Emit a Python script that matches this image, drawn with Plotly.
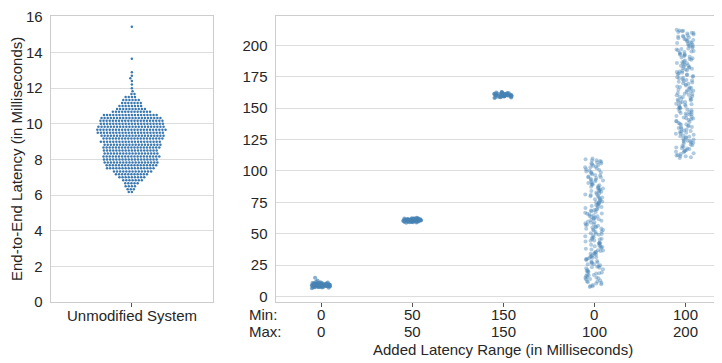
import math
import plotly.graph_objects as go

# ---------------- data ----------------
# Left panel (swarm): distinct latency values (ms) and how many samples sit at each
swarm_values = [6.17, 6.33, 6.50, 6.67, 6.83, 7.00, 7.17, 7.33, 7.50, 7.67, 7.83, 8.00, 8.17,
                8.33, 8.50, 8.67, 8.83, 9.00, 9.17, 9.33, 9.50, 9.67, 9.83, 10.00, 10.17,
                10.33, 10.50, 10.67, 10.83, 11.00, 11.17, 11.33, 11.50, 11.67, 11.83,
                12.0, 12.2, 12.4, 12.55, 12.7, 12.9, 13.65, 15.45]
swarm_counts = [2, 3, 4, 5, 7, 9, 11, 13, 16, 17, 18, 18, 19,
                18, 18, 19, 19, 20, 20, 21, 22, 23, 22, 21, 21,
                20, 18, 13, 10, 8, 7, 6, 4, 2, 1,
                1, 1, 1, 1, 1, 1, 1, 1]
swarm_category = "Unmodified System"

# Right panel (strips): tick labels and measured latencies per added-latency range
range_min = ["0", "50", "150", "0", "100"]
range_max = ["0", "50", "150", "100", "200"]

lat_0_0 = [6.4, 6.8, 7.0, 7.1, 7.3, 7.4, 7.5, 7.6, 7.7, 7.8, 7.9, 8.0, 8.0, 8.1, 8.2, 8.2,
           8.3, 8.4, 8.4, 8.5, 8.5, 8.6, 8.6, 8.7, 8.7, 8.8, 8.8, 8.9, 8.9, 9.0, 9.0, 9.1,
           9.1, 9.2, 9.2, 9.3, 9.3, 9.4, 9.4, 9.5, 9.5, 9.6, 9.6, 9.7, 9.8, 9.8, 9.9, 10.0,
           10.1, 10.2, 10.3, 10.4, 10.5, 10.6, 10.8, 11.0, 11.3, 11.7, 12.6, 14.9,
           7.2, 7.9, 8.3, 8.6, 9.0, 9.3, 9.7, 10.1, 10.4, 8.1, 8.9, 9.5, 9.9, 10.7]
lat_50_50 = [58.6, 58.9, 59.1, 59.3, 59.4, 59.5, 59.6, 59.7, 59.8, 59.9, 60.0, 60.0, 60.1,
             60.1, 60.2, 60.2, 60.3, 60.3, 60.4, 60.4, 60.5, 60.5, 60.6, 60.6, 60.7, 60.7,
             60.8, 60.8, 60.9, 60.9, 61.0, 61.0, 61.1, 61.1, 61.2, 61.2, 61.3, 61.4, 61.5,
             61.6, 61.7, 61.8, 61.9, 62.0, 62.2, 62.4, 62.6, 59.2, 59.9, 60.6, 61.3, 61.9,
             59.0, 59.6, 60.1, 60.4, 60.8, 61.1, 61.5, 62.1]
lat_150_150 = [158.2, 158.5, 158.8, 159.0, 159.2, 159.4, 159.5, 159.6, 159.7, 159.8, 159.9,
               160.0, 160.1, 160.1, 160.2, 160.3, 160.3, 160.4, 160.5, 160.5, 160.6, 160.6,
               160.7, 160.8, 160.8, 160.9, 161.0, 161.0, 161.1, 161.2, 161.3, 161.4, 161.5,
               161.6, 161.7, 161.8, 162.0, 162.2, 162.4, 162.7, 163.0, 159.3, 160.2, 160.9, 161.5,
               158.6, 159.1, 159.8, 160.4, 160.7, 161.1, 161.6, 162.1, 162.5]
lat_0_100 = [7.4, 8.1, 8.3, 9.7, 10.2, 10.8, 11.9, 12.1, 12.7, 13.6, 13.8, 14.5, 15.1, 15.4, 16.2, 16.9, 17.0, 9.1, 11.2, 14.9,
             17.6, 18.3, 18.5, 19.4, 20.1, 20.2, 21.7, 22.4, 22.9, 23.3, 24.0, 24.8, 25.5, 25.6, 26.3, 26.9, 19.0, 21.1, 23.7, 27.0,
             27.8, 28.2, 28.9, 29.5, 30.3, 30.7, 31.6, 32.0, 32.8, 33.1, 33.9, 34.6, 35.2, 35.4, 36.1, 36.8, 29.9, 31.2, 34.0, 36.5,
             37.3, 38.0, 38.7, 39.4, 39.6, 40.5, 41.1, 41.9, 42.2, 43.0, 43.8, 44.4, 44.5, 45.3, 46.0, 46.7, 40.0, 42.6, 45.8,
             47.2, 47.9, 48.6, 49.1, 50.0, 50.4, 51.3, 51.8, 52.5, 53.2, 53.9, 54.1, 54.8, 55.6, 56.2, 56.9, 49.7, 52.9, 55.0, 57.0,
             57.5, 58.3, 58.8, 59.6, 60.2, 60.9, 61.4, 62.3, 62.7, 63.5, 64.1, 64.6, 65.4, 66.0, 66.7, 59.0, 61.8, 63.9, 65.9,
             67.3, 67.9, 68.4, 69.2, 69.8, 70.5, 71.2, 71.7, 72.6, 73.0, 73.7, 74.3, 75.1, 75.6, 76.4, 76.9, 68.8, 72.1, 74.8,
             77.4, 78.1, 78.9, 79.3, 80.0, 80.8, 81.5, 82.1, 82.8, 83.4, 84.0, 84.7, 85.2, 85.9, 86.6, 79.8, 81.1, 83.9, 86.2,
             87.3, 87.8, 88.5, 89.2, 89.9, 90.4, 91.1, 91.8, 92.3, 93.0, 93.6, 94.4, 94.9, 95.5, 96.3, 96.8, 88.9, 92.7, 95.0,
             97.4, 98.1, 98.7, 99.5, 100.2, 100.8, 101.4, 102.1, 102.9, 103.5, 104.2, 104.8, 105.3, 106.1, 106.7, 107.4, 108.0,
             108.6, 109.3, 109.9, 99.0, 103.0, 105.9, 108.3]
lat_100_200 = [110.3, 110.9, 111.6, 112.2, 112.7, 113.5, 114.0, 114.8, 115.3, 116.1, 116.6, 117.4, 117.9, 118.7, 119.2, 119.8, 111.9, 115.7, 118.1,
               120.5, 121.1, 121.8, 122.4, 123.2, 123.6, 124.5, 125.0, 125.7, 126.4, 126.9, 127.6, 128.3, 128.8, 129.6, 122.9, 124.1, 127.2, 129.9,
               130.4, 131.0, 131.9, 132.3, 133.1, 133.7, 134.2, 135.0, 135.6, 136.3, 136.8, 137.7, 138.1, 138.9, 139.5, 131.5, 134.7, 137.3, 139.8,
               140.6, 141.2, 141.7, 142.5, 143.1, 143.8, 144.3, 145.1, 145.8, 146.2, 147.0, 147.6, 148.4, 148.9, 149.5, 142.0, 144.9, 146.7, 149.9,
               150.4, 151.0, 151.8, 152.3, 153.1, 153.6, 154.4, 155.0, 155.7, 156.3, 157.1, 157.5, 158.2, 158.9, 159.6, 152.8, 154.9, 156.8, 159.2,
               160.3, 160.8, 161.6, 162.2, 162.9, 163.4, 164.2, 164.7, 165.5, 166.1, 166.8, 167.3, 168.0, 168.8, 169.4, 161.2, 163.9, 166.5, 169.9,
               170.5, 171.1, 171.7, 172.4, 173.0, 173.8, 174.3, 175.1, 175.6, 176.4, 177.0, 177.7, 178.3, 178.9, 179.6, 172.0, 174.7, 176.9, 179.2,
               180.2, 180.9, 181.5, 182.2, 182.8, 183.3, 184.1, 184.6, 185.4, 186.0, 186.7, 187.2, 188.0, 188.6, 189.3, 181.8, 183.9, 185.8, 189.8,
               190.4, 191.0, 191.7, 192.3, 193.0, 193.5, 194.3, 194.9, 195.5, 196.2, 196.8, 197.6, 198.1, 198.9, 199.5, 192.6, 195.1, 197.2, 199.9,
               200.6, 201.2, 201.9, 202.5, 203.1, 203.8, 204.4, 205.0, 205.7, 206.3, 206.9, 207.6, 208.2, 208.8, 209.5, 210.1, 210.7, 211.4, 212.0,
               212.6, 202.0, 204.9, 207.1, 209.9, 211.8]
strip_groups = [lat_0_0, lat_50_50, lat_150_150, lat_0_100, lat_100_200]

# ---------------- geometry / style ----------------
OFF = 8                                      # page body margin of the browser
W, H = 722 - OFF, 363 - OFF
TOP, BOTTOM = 12 - OFF, 302 - OFF            # plot area (figure pixels)
PLOT_H = BOTTOM - TOP
L_X0, L_X1 = 50.7 - OFF, 213.0 - OFF
R_X0, R_X1 = 275.5 - OFF, float(W)
L_YR = [0, 16.05]
R_YR = [-4.5, 223.5]
R_XR = [-0.5, -0.5 + (R_X1 - R_X0) / 91.0]
FONT = "Liberation Sans, Arial, sans-serif"
TXT = "#262626"
BLUE = "#3a78b0"
STRIP_BLUE = "#4682b4"


def py(ypage):
    return (BOTTOM - (ypage - OFF)) / PLOT_H


def px(xpage):
    return (xpage - OFF) / W


# ---- beeswarm placement (pixel space) ----
vals = []
for v, c in zip(swarm_values, swarm_counts):
    vals += [v] * c
vals.sort()
ppy = PLOT_H / (L_YR[1] - L_YR[0])
ppx = (L_X1 - L_X0) / 1.0
D = 3.1
placed = []
for v in vals:
    yp = v * ppy
    neigh = [(qx, qy) for (qx, qy) in placed if abs(qy - yp) < D]
    cands = [0.0]
    for qx, qy in neigh:
        dx = math.sqrt(max(D * D - (qy - yp) ** 2, 0))
        cands += [qx + dx, qx - dx]
    cands.sort(key=lambda c: (abs(c), c))
    chosen = 0.0
    for c in cands:
        if all((c - qx) ** 2 + (yp - qy) ** 2 >= D * D - 1e-6 for qx, qy in neigh):
            chosen = c
            break
    placed.append((chosen, yp))
swarm_x = [p[0] / ppx for p in placed]
swarm_y = [p[1] / ppy for p in placed]


def jit(i, k):
    h = math.sin(i * 12.9898 + k * 78.233) * 43758.5453
    return (h - math.floor(h)) * 0.2 - 0.1


fig = go.Figure()
fig.add_trace(go.Scatter(x=swarm_x, y=swarm_y, mode="markers", xaxis="x", yaxis="y",
                         marker=dict(size=2.5, color=BLUE, line=dict(width=0)),
                         showlegend=False, hoverinfo="y"))
for k, grp in enumerate(strip_groups):
    xs = [k + jit(i, k) for i in range(len(grp))]
    dense = k < 3
    fig.add_trace(go.Scatter(x=xs, y=grp, mode="markers", xaxis="x2", yaxis="y2",
                             marker=dict(size=4.0, color=STRIP_BLUE,
                                         opacity=0.65 if dense else 0.42, line=dict(width=0)),
                             showlegend=False, hoverinfo="y"))

axis_common = dict(showline=True, linecolor="#cccccc", linewidth=1, zeroline=False,
                   tickfont=dict(family=FONT, size=15, color=TXT))
fig.update_layout(
    width=W, height=H, margin=dict(l=0, r=0, t=TOP, b=H - BOTTOM),
    paper_bgcolor="white", plot_bgcolor="white",
    font=dict(family=FONT, size=15, color=TXT),
    xaxis=dict(domain=[L_X0 / W, L_X1 / W], range=[-0.5, 0.5], tickvals=[0], ticktext=[""],
               showticklabels=False, ticks="outside", ticklen=4, tickcolor="#555555",
               showgrid=False, mirror=True, **axis_common),
    yaxis=dict(domain=[0, 1], range=L_YR, tickvals=list(range(0, 17, 2)), showgrid=True,
               gridcolor="#dddddd", gridwidth=1, mirror=True, ticks="", ticklabelstandoff=4,
               ticklabeloverflow="allow", **axis_common),
    xaxis2=dict(domain=[R_X0 / W, 1.0], range=R_XR, anchor="y2", tickvals=list(range(5)),
                ticktext=[""] * 5, showticklabels=False, ticks="outside", ticklen=4,
                tickcolor="#555555", showgrid=False, mirror=True, **axis_common),
    yaxis2=dict(domain=[0, 1], range=R_YR, anchor="x2", tickvals=list(range(0, 201, 25)),
                showgrid=True, gridcolor="#dddddd", gridwidth=1, mirror=False, ticks="",
                ticklabelstandoff=4, ticklabeloverflow="allow", **axis_common),
)

ann = []
ann.append(dict(x=0, xref="x", y=py(316), yref="paper", text=swarm_category, showarrow=False,
                xanchor="center", yanchor="middle"))
for k in range(5):
    ann.append(dict(x=k, xref="x2", y=py(315), yref="paper", text=range_min[k], showarrow=False,
                    xanchor="center", yanchor="middle"))
    ann.append(dict(x=k, xref="x2", y=py(332), yref="paper", text=range_max[k], showarrow=False,
                    xanchor="center", yanchor="middle"))
ann.append(dict(x=px(247), xref="paper", y=py(315), yref="paper", text="Min:", showarrow=False,
                xanchor="left", yanchor="middle"))
ann.append(dict(x=px(247), xref="paper", y=py(332), yref="paper", text="Max:", showarrow=False,
                xanchor="left", yanchor="middle"))
ann.append(dict(x=px(502.5), xref="paper", y=py(350), yref="paper",
                text="Added Latency Range (in Milliseconds)", showarrow=False,
                xanchor="center", yanchor="middle"))
ann.append(dict(x=px(16), xref="paper", y=py(157), yref="paper",
                text="End-to-End Latency (in Milliseconds)", showarrow=False, textangle=-90,
                xanchor="center", yanchor="middle"))
fig.update_layout(annotations=ann)

fig.write_html("out.html")
